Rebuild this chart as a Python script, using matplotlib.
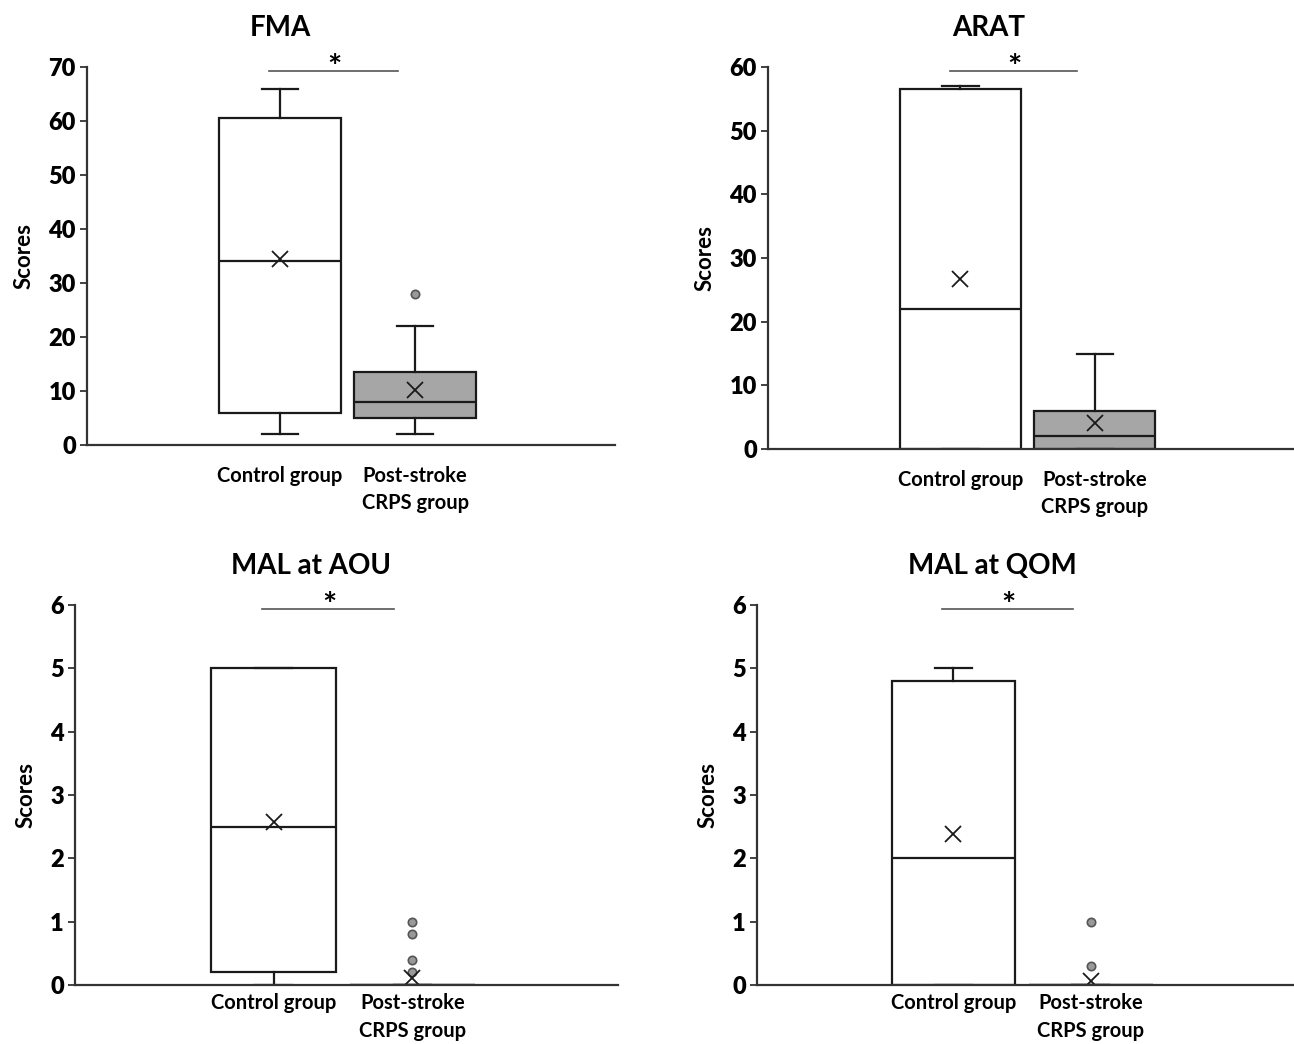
import matplotlib
matplotlib.use('Agg')
import matplotlib.pyplot as plt

plt.rcParams['font.family'] = ['Lato', 'DejaVu Sans']

# data
groups = ['Control group', 'Post-stroke\nCRPS group']
panel_titles = ['FMA', 'ARAT', 'MAL at AOU', 'MAL at QOM']
whis_low = [[2, 2], [0, 0], [0, 0], [0, 0]]
q1 = [[6, 5], [0, 0], [0.2, 0], [0, 0]]
medians = [[34, 8], [22, 2], [2.5, 0], [2, 0]]
q3 = [[60.5, 13.5], [56.5, 6], [5, 0], [4.8, 0]]
whis_high = [[66, 22], [57, 15], [5, 0], [5, 0]]
means = [[34.4, 10.2], [26.7, 4.1], [2.57, 0.11], [2.38, 0.06]]
outliers = [[[], [28]], [[], []], [[], [1.0, 0.8, 0.4, 0.2]], [[], [1.0, 0.3]]]
y_max = [70, 60, 6, 6]
y_step = [10, 10, 1, 1]

# layout (pixels of the figure) and title offsets
W, H = 1294, 1044
axes_px = [(87, 67, 615, 445), (768, 67, 1294, 449),
           (75, 605, 618, 985), (757, 605, 1294, 985)]
title_x = [0.366, 0.42, 0.435, 0.438]
label_pad = [15, 15, 6, 6]
box_colors = ['white', '#a6a6a6']

fig = plt.figure(figsize=(W / 100, H / 100), dpi=100)

for i in range(4):
    x0, y0, x1, y1 = axes_px[i]
    ax = fig.add_axes([x0 / W, 1 - y1 / H, (x1 - x0) / W, (y1 - y0) / H])

    stats = []
    for g in range(2):
        stats.append({'whislo': whis_low[i][g], 'q1': q1[i][g], 'med': medians[i][g],
                      'q3': q3[i][g], 'whishi': whis_high[i][g], 'mean': means[i][g],
                      'fliers': outliers[i][g]})

    bp = ax.bxp(stats, positions=[1, 2], widths=0.9, capwidths=0.27,
                patch_artist=True, showmeans=True,
                boxprops=dict(edgecolor='#1a1a1a', linewidth=1.6),
                whiskerprops=dict(color='#1a1a1a', linewidth=1.6),
                capprops=dict(color='#1a1a1a', linewidth=1.6),
                medianprops=dict(color='#1a1a1a', linewidth=1.6),
                meanprops=dict(marker='x', markersize=11, markeredgecolor='#1a1a1a',
                               markeredgewidth=1.3),
                flierprops=dict(marker='o', markersize=6, markerfacecolor='#999999',
                                markeredgecolor='#555555', markeredgewidth=1.2))
    for patch, c in zip(bp['boxes'], box_colors):
        patch.set_facecolor(c)

    ax.set_xlim(-0.43, 3.48)
    ax.set_ylim(0, y_max[i])
    yt = list(range(0, y_max[i] + 1, y_step[i]))
    ax.set_yticks(yt)
    ax.set_yticklabels([str(v) for v in yt], fontsize=17, fontweight='heavy')
    ax.set_xticks([1, 2])
    ax.set_xticklabels(groups, fontsize=14.5, fontweight='bold', linespacing=1.45)
    ax.tick_params(axis='x', length=0, pad=label_pad[i])
    ax.tick_params(axis='y', length=5, width=1.3, color='#333333', pad=3)
    for s in ['top', 'right']:
        ax.spines[s].set_visible(False)
    for s in ['left', 'bottom']:
        ax.spines[s].set_color('#333333')
        ax.spines[s].set_linewidth(1.6)

    ax.set_ylabel('Scores', fontsize=16, fontweight='bold', labelpad=10)
    ax.set_title(panel_titles[i], fontsize=20, fontweight='bold', x=title_x[i], pad=22)

    # significance bar
    sy = y_max[i] * 0.99
    ax.plot([0.92, 1.87], [sy, sy], color='#555555', linewidth=1.2, clip_on=False)
    ax.annotate('*', (1.40, sy), xytext=(0, 2), textcoords='offset pixels',
                ha='center', va='center', fontsize=24, fontweight='bold')

fig.savefig('out.png', dpi=100)
